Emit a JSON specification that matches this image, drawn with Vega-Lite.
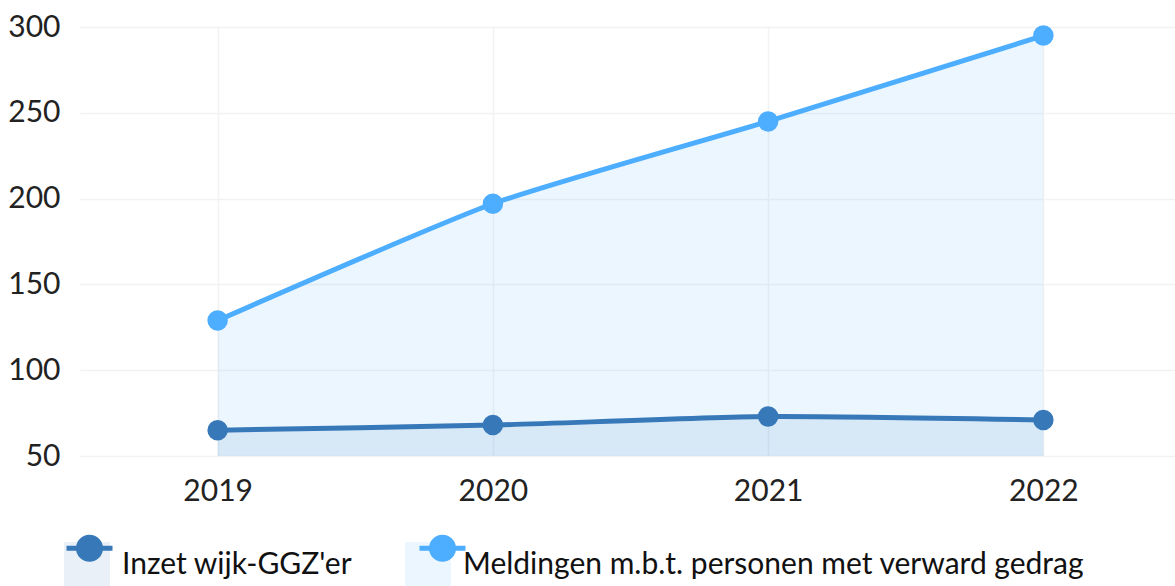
{
  "$schema": "https://vega.github.io/schema/vega-lite/v6.json",
  "width": 1101,
  "height": 429,
  "autosize": {"type": "none"},
  "padding": {"left": 80, "top": 27, "right": 0, "bottom": 130},
  "background": "white",
  "config": {
    "font": "Lato",
    "view": {"stroke": null},
    "axis": {"labelFont": "Lato", "labelFontSize": 30, "labelColor": "#222222", "domain": false, "ticks": false, "gridColor": "#f2f2f2", "gridWidth": 1.5, "title": null}
  },
  "data": {
    "values": [
      {"year": "2019", "series": "Inzet wijk-GGZ'er", "value": 65},
      {"year": "2020", "series": "Inzet wijk-GGZ'er", "value": 68},
      {"year": "2021", "series": "Inzet wijk-GGZ'er", "value": 73},
      {"year": "2022", "series": "Inzet wijk-GGZ'er", "value": 71},
      {"year": "2019", "series": "Meldingen m.b.t. personen met verward gedrag", "value": 129},
      {"year": "2020", "series": "Meldingen m.b.t. personen met verward gedrag", "value": 197},
      {"year": "2021", "series": "Meldingen m.b.t. personen met verward gedrag", "value": 245},
      {"year": "2022", "series": "Meldingen m.b.t. personen met verward gedrag", "value": 295}
    ]
  },
  "encoding": {
    "x": {"field": "year", "type": "ordinal", "scale": {"type": "point", "padding": 0.5},
      "axis": {"labelAngle": 0, "labelPadding": 20, "grid": true}},
    "y": {"field": "value", "type": "quantitative", "scale": {"domain": [50, 300], "zero": false, "nice": false},
      "axis": {"values": [50, 100, 150, 200, 250, 300], "labelPadding": 20, "grid": true}}
  },
  "layer": [
    {"mark": {"type": "area", "interpolate": "cardinal", "tension": 0.45, "fillOpacity": 0.11},
      "encoding": {"y": {"field": "value", "type": "quantitative", "stack": null},
        "fill": {"field": "series", "type": "nominal",
          "scale": {"domain": ["Inzet wijk-GGZ'er", "Meldingen m.b.t. personen met verward gedrag"], "range": ["#3778b8", "#4dadff"]},
          "legend": {"orient": "none", "legendX": -16, "legendY": 515, "direction": "horizontal", "title": null,
            "symbolType": "square", "symbolSize": 2116, "symbolOpacity": 0.11, "symbolStrokeWidth": 0,
            "labelFont": "Lato", "labelFontSize": 30, "labelLimit": 0, "labelColor": "#111111", "labelOffset": 12, "columnPadding": 52}}}},
    {"mark": {"type": "line", "interpolate": "cardinal", "tension": 0.45, "strokeWidth": 5},
      "encoding": {"color": {"field": "series", "type": "nominal",
        "scale": {"range": ["#3778b8", "#4dadff"]},
        "legend": {"orient": "none", "legendX": -16, "legendY": 515, "direction": "horizontal", "title": null,
          "symbolType": "M-1,-0.85L1,-0.85M-0.48,-0.85A0.48,0.48 0 1,0 0.48,-0.85A0.48,0.48 0 1,0 -0.48,-0.85Z",
          "symbolSize": 2116, "symbolStrokeWidth": 5, "symbolOpacity": 1,
          "labelExpr": "''", "labelFontSize": 30, "labelOffset": 12, "columnPadding": 282,
          "encode": {"symbols": {"update": {"stroke": {"field": "value", "scale": "color"}, "fill": {"field": "value", "scale": "color"}}}}}}}},
    {"mark": {"type": "point", "filled": true, "size": 420, "opacity": 1},
      "encoding": {"color": {"field": "series", "type": "nominal"}}}
  ]
}
